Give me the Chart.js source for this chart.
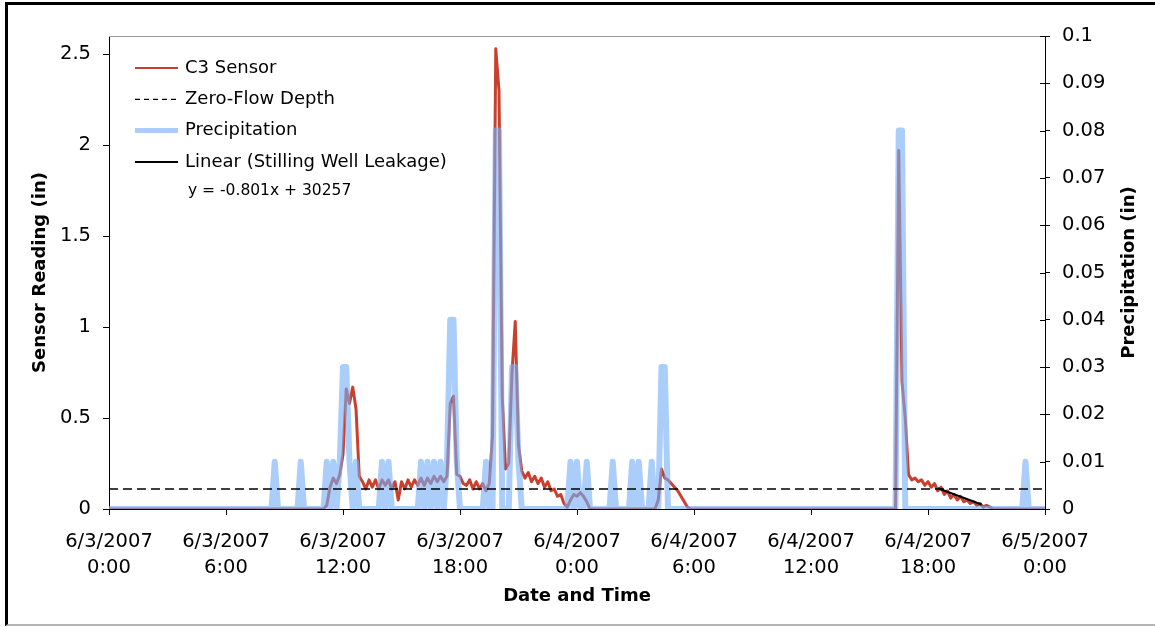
<!DOCTYPE html>
<html>
<head>
<meta charset="utf-8">
<script src="https://cdn.jsdelivr.net/npm/chart.js@4.4.1/dist/chart.umd.min.js"></script>
<style>
  html, body { margin: 0; padding: 0; background: #fff; }
  #wrap { position: relative; width: 1155px; height: 627px; overflow: hidden; background: #fff; }
  #chart { position: absolute; left: 0; top: 0; }
  #frame {
    position: absolute; left: 5px; top: 2px; width: 1150px; height: 624px;
    box-sizing: border-box; border-top: 3px solid #000; border-left: 3px solid #000;
    border-bottom: 2px solid #b4b4b4; pointer-events: none;
  }
</style>
</head>
<body>
<div id="wrap">
  <canvas id="chart" width="1155" height="627"></canvas>
  <div id="frame"></div>
</div>
<script>
// readings every 10 minutes, 6/3/2007 0:00 -> 6/5/2007 0:00 (one row = 6 hours)
const sensorReading = [
  0,0,0,0,0,0,0,0,0,0,0,0,0,0,0,0,0,0,0,0,0,0,0,0,0,0,0,0,0,0,0,0,0,0,0,0,
  0,0,0,0,0,0,0,0,0,0,0,0,0,0,0,0,0,0,0,0,0,0,0,0,0,0,0,0,0,0,0,0.02,0.12,0.17,0.14,0.19,
  0.30,0.66,0.58,0.67,0.55,0.18,0.15,0.11,0.16,0.12,0.16,0.11,0.16,0.13,0.16,0.11,0.15,0.05,0.15,0.11,0.16,0.12,0.16,0.13,0.17,0.13,0.17,0.14,0.18,0.15,0.18,0.15,0.18,0.58,0.62,0.19,
  0.18,0.14,0.13,0.16,0.11,0.15,0.11,0.14,0.10,0.14,0.40,2.53,2.30,0.62,0.22,0.25,0.75,1.03,0.35,0.21,0.17,0.20,0.15,0.18,0.14,0.17,0.12,0.15,0.10,0.11,0.07,0.08,0.03,0.01,0.05,0.08,
  0.07,0.09,0.07,0.04,0,0,0,0,0,0,0,0,0,0,0,0,0,0,0,0,0,0,0,0,0,0.05,0.22,0.17,0.16,0.14,0.12,0.10,0.07,0.04,0.01,0,
  0,0,0,0,0,0,0,0,0,0,0,0,0,0,0,0,0,0,0,0,0,0,0,0,0,0,0,0,0,0,0,0,0,0,0,0,
  0,0,0,0,0,0,0,0,0,0,0,0,0,0,0,0,0,0,0,0,0,0,0,0,0,0,0,1.97,0.70,0.50,0.19,0.16,0.17,0.15,0.16,0.13,
  0.15,0.12,0.14,0.10,0.12,0.08,0.10,0.06,0.08,0.05,0.07,0.04,0.05,0.03,0.04,0.02,0.03,0.01,0.02,0.01,0,0,0,0,0,0,0,0,0,0,0,0,0,0,0,0,
  0
];

// precipitation per 10 minutes, in hundredths of an inch
const precipHundredths = [
  0,0,0,0,0,0,0,0,0,0,0,0,0,0,0,0,0,0,0,0,0,0,0,0,0,0,0,0,0,0,0,0,0,0,0,0,
  0,0,0,0,0,0,0,0,0,0,0,0,0,0,0,1,0,0,0,0,0,0,0,1,0,0,0,0,0,0,0,1,0,1,0,1,
  3,3,1,0,1,0,0,0,0,0,0,0,1,0,1,0,0,0,0,0,0,0,0,0,1,0,1,0,1,0,1,0,1,4,4,1,
  0,0,0,0,0,0,0,0,1,0,0,8,8,0,0,0,3,3,1,0,0,0,0,0,0,0,0,0,0,0,0,0,0,0,1,0,
  1,0,0,1,0,0,0,0,0,0,0,1,0,0,0,0,0,1,0,1,0,0,0,1,0,0,3,3,0,0,0,0,0,0,0,0,
  0,0,0,0,0,0,0,0,0,0,0,0,0,0,0,0,0,0,0,0,0,0,0,0,0,0,0,0,0,0,0,0,0,0,0,0,
  0,0,0,0,0,0,0,0,0,0,0,0,0,0,0,0,0,0,0,0,0,0,0,0,0,0,0,8,8,0,0,0,0,0,0,0,
  0,0,0,0,0,0,0,0,0,0,0,0,0,0,0,0,0,0,0,0,0,0,0,0,0,0,0,0,0,0,1,0,0,0,0,0,
  0
];

const zeroFlowHours = [0, 48];
const zeroFlowDepth = [0.11, 0.11];

const leakageHours = [42.5, 44.75];
const leakageTrend = [0.114, 0.025];
const trendEquation = 'y = -0.801x + 30257';

const hourTicks = [0, 6, 12, 18, 24, 30, 36, 42, 48];

const FONT = 'DejaVu Sans';
const sensorColor = '#c9412e';
const precipColor = 'rgba(118, 174, 247, 0.62)';

const sampleHours = sensorReading.map((v, i) => i / 6);

const tickLabel = (h) => {
  const day = 3 + Math.floor(h / 24);
  return ['6/' + day + '/2007', (h % 24) + ':00'];
};

// grey top edge, inner ticks of the right axis, right axis title and the legend box
const chartExtras = {
  id: 'chartExtras',
  afterDraw(chart) {
    const { ctx, chartArea } = chart;
    const y2 = chart.scales.y2;
    ctx.save();
    ctx.strokeStyle = '#9a9a9a';
    ctx.lineWidth = 1;
    ctx.beginPath();
    ctx.moveTo(chartArea.left, chartArea.top + 0.5);
    ctx.lineTo(chartArea.right, chartArea.top + 0.5);
    ctx.stroke();

    ctx.strokeStyle = '#000';
    ctx.beginPath();
    y2.ticks.forEach(t => {
      const y = Math.round(y2.getPixelForValue(t.value)) + 0.5;
      ctx.moveTo(chartArea.right - 5, y);
      ctx.lineTo(chartArea.right, y);
    });
    ctx.stroke();

    // right title reads bottom to top, like the left one
    ctx.save();
    ctx.translate(1129, (chartArea.top + chartArea.bottom) / 2);
    ctx.rotate(-Math.PI / 2);
    ctx.font = 'bold 18px "' + FONT + '"';
    ctx.fillStyle = '#000';
    ctx.textAlign = 'center';
    ctx.textBaseline = 'middle';
    ctx.fillText('Precipitation (in)', 0, 0);
    ctx.restore();

    const x0 = chartArea.left + 26;
    const x1 = chartArea.left + 69;
    const tx = chartArea.left + 76;
    const rows = [
      { label: 'C3 Sensor', color: sensorColor, width: 2, dash: [] },
      { label: 'Zero-Flow Depth', color: '#000', width: 1.3, dash: [5, 4] },
      { label: 'Precipitation', color: precipColor, width: 5, dash: [] },
      { label: 'Linear (Stilling Well Leakage)', color: '#000', width: 2, dash: [] }
    ];
    ctx.font = '18px "' + FONT + '"';
    ctx.textBaseline = 'middle';
    ctx.textAlign = 'left';
    rows.forEach((r, i) => {
      const y = chartArea.top + 32 + i * 31.3;
      ctx.strokeStyle = r.color;
      ctx.lineWidth = r.width;
      ctx.setLineDash(r.dash);
      ctx.beginPath();
      ctx.moveTo(x0, y);
      ctx.lineTo(x1, y);
      ctx.stroke();
      ctx.setLineDash([]);
      ctx.fillStyle = '#000';
      ctx.fillText(r.label, tx, y);
    });
    ctx.font = '15.5px "' + FONT + '"';
    ctx.fillText(trendEquation, tx + 3, chartArea.top + 155);
    ctx.restore();
  }
};

const tickFont = { family: FONT, size: 19.5, lineHeight: 1.333 };
const titleFont = { family: FONT, size: 18, weight: 'bold' };

new Chart(document.getElementById('chart'), {
  type: 'line',
  data: {
    datasets: [
      {
        label: 'Linear (Stilling Well Leakage)',
        data: leakageHours.map((h, i) => ({ x: h, y: leakageTrend[i] })),
        borderColor: '#000',
        borderWidth: 2,
        pointRadius: 0,
        yAxisID: 'y',
        clip: 0
      },
      {
        label: 'Zero-Flow Depth',
        data: zeroFlowHours.map((h, i) => ({ x: h, y: zeroFlowDepth[i] })),
        borderColor: '#000',
        borderWidth: 1.3,
        borderDash: [9, 5],
        pointRadius: 0,
        yAxisID: 'y',
        clip: 0
      },
      {
        label: 'Precipitation',
        data: precipHundredths.map((v, i) => ({ x: sampleHours[i], y: v / 100 })),
        borderColor: precipColor,
        borderWidth: 6,
        borderJoinStyle: 'round',
        pointRadius: 0,
        yAxisID: 'y2',
        clip: 0
      },
      {
        label: 'C3 Sensor',
        data: sensorReading.map((v, i) => ({ x: sampleHours[i], y: v })),
        borderColor: sensorColor,
        borderWidth: 3,
        borderJoinStyle: 'round',
        pointRadius: 0,
        yAxisID: 'y',
        clip: 0
      }
    ]
  },
  options: {
    responsive: false,
    animation: false,
    events: [],
    layout: { padding: { top: 36, left: 0, right: 0, bottom: 0 } },
    plugins: {
      legend: { display: false },
      tooltip: { enabled: false }
    },
    scales: {
      x: {
        type: 'linear',
        position: 'bottom',
        min: 0,
        max: 48,
        afterBuildTicks: (s) => { s.ticks = hourTicks.map(v => ({ value: v })); },
        afterFit: (s) => { s.height = 118; },
        ticks: {
          callback: tickLabel,
          font: tickFont,
          color: '#000',
          padding: 14,
          maxRotation: 0,
          autoSkip: false
        },
        grid: { drawOnChartArea: false, tickLength: 6, color: '#000' },
        border: { color: '#000', width: 1 },
        title: {
          display: true,
          text: 'Date and Time',
          font: titleFont,
          color: '#000',
          padding: { top: 0, bottom: 20 }
        }
      },
      y: {
        position: 'left',
        min: 0,
        max: 2.6,
        afterFit: (s) => { s.width = 109; },
        ticks: {
          stepSize: 0.5,
          includeBounds: false,
          callback: (v) => String(+v.toFixed(2)),
          font: tickFont,
          color: '#000',
          padding: 12
        },
        grid: { drawOnChartArea: false, tickLength: 6, color: '#000' },
        border: { color: '#000', width: 1 },
        title: {
          display: true,
          text: 'Sensor Reading (in)',
          font: titleFont,
          color: '#000',
          padding: { top: 30, bottom: 0 }
        }
      },
      y2: {
        position: 'right',
        min: 0,
        max: 0.1,
        afterFit: (s) => { s.width = 110; },
        ticks: {
          stepSize: 0.01,
          callback: (v) => String(+v.toFixed(2)),
          font: tickFont,
          color: '#000',
          padding: 12
        },
        grid: { drawOnChartArea: false, tickLength: 5, color: '#000' },
        border: { color: '#000', width: 1 },
        title: { display: false }
      }
    }
  },
  plugins: [chartExtras]
});
</script>
</body>
</html>
